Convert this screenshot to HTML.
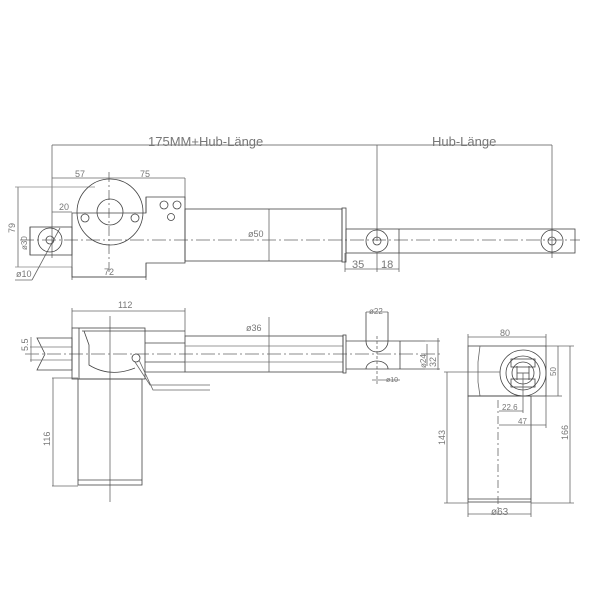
<!DOCTYPE html>
<html><head><meta charset="utf-8"><style>
html,body{margin:0;padding:0;background:#fff;}
svg{display:block;}
text{font-family:"Liberation Sans",sans-serif;fill:#777;}
</style></head><body>
<svg width="600" height="600" viewBox="0 0 600 600" xmlns="http://www.w3.org/2000/svg">
<g fill="none" stroke="#444" stroke-width="0.8">
<line x1="52" y1="145" x2="552" y2="145" stroke="#555"/>
<line x1="52" y1="145" x2="52" y2="258" stroke="#666"/>
<line x1="377" y1="145" x2="377" y2="241" stroke="#666"/>
<line x1="552" y1="145" x2="552" y2="258" stroke="#666"/>
<line x1="52" y1="178" x2="185" y2="178" stroke="#666"/>
<line x1="185" y1="178" x2="185" y2="200" stroke="#666"/>
<line x1="109" y1="172" x2="109" y2="272" stroke="#666" stroke-dasharray="10,3,2,3"/>
<line x1="52" y1="212" x2="72" y2="212" stroke="#666"/>
<line x1="18" y1="187" x2="18" y2="267" stroke="#666"/>
<line x1="15" y1="187" x2="95" y2="187" stroke="#888"/>
<line x1="15" y1="267" x2="72" y2="267" stroke="#888"/>
<line x1="30" y1="227" x2="30" y2="255"/>
<line x1="72" y1="277" x2="146" y2="277" stroke="#666"/>
<line x1="72" y1="267" x2="72" y2="280" stroke="#666"/>
<line x1="146" y1="263" x2="146" y2="280" stroke="#666"/>
<line x1="269" y1="209" x2="269" y2="261" stroke="#666"/>
<line x1="345" y1="269" x2="399" y2="269" stroke="#666"/>
<line x1="345" y1="253" x2="345" y2="272" stroke="#666"/>
<line x1="377" y1="253" x2="377" y2="272" stroke="#666"/>
<line x1="399" y1="253" x2="399" y2="272" stroke="#666"/>
<line x1="15" y1="280" x2="32" y2="280" stroke="#666"/>
<line x1="32" y1="280" x2="60" y2="228" stroke="#666"/>
<line x1="20" y1="240" x2="580" y2="240" stroke="#666" stroke-dasharray="14,3,2,3"/>
<rect x="30" y="227" width="42" height="28"/>
<circle cx="50" cy="240" r="12"/>
<circle cx="50" cy="240" r="4"/>
<path d="M72,213 V277 H146 V263 H185 V197 H146 V213 Z"/>
<line x1="146" y1="197" x2="146" y2="213"/>
<circle cx="110" cy="212" r="33"/>
<circle cx="110" cy="212" r="13"/>
<circle cx="85" cy="218" r="4"/>
<circle cx="135" cy="218" r="4"/>
<circle cx="164" cy="205" r="4"/>
<circle cx="177" cy="205" r="4"/>
<circle cx="171" cy="217" r="3.5"/>
<rect x="185" y="209" width="157" height="52"/>
<rect x="342" y="208" width="4" height="54"/>
<rect x="346" y="229" width="229" height="24"/>
<line x1="399" y1="229" x2="399" y2="253"/>
<circle cx="377" cy="241" r="11"/>
<circle cx="377" cy="241" r="4"/>
<circle cx="552" cy="241" r="11"/>
<circle cx="552" cy="241" r="4"/>

<line x1="72" y1="311" x2="185" y2="311" stroke="#666"/>
<line x1="72" y1="308" x2="72" y2="328" stroke="#666"/>
<line x1="185" y1="308" x2="185" y2="336" stroke="#666"/>
<line x1="110" y1="316" x2="110" y2="502" stroke="#666"/>
<line x1="25" y1="354" x2="440" y2="354" stroke="#666" stroke-dasharray="14,3,2,3"/>
<path d="M37,338 H72 V370 H37 L45,354 Z"/>
<line x1="30" y1="347" x2="72" y2="347" stroke="#777"/>
<line x1="30" y1="360" x2="72" y2="360" stroke="#777"/>
<line x1="31" y1="337" x2="31" y2="362" stroke="#777"/>
<rect x="72" y="328" width="73" height="51"/>
<line x1="79" y1="328" x2="79" y2="379"/>
<path d="M82,331 H145 M84,331 L89,345 V365 Q110,378 135,368"/>
<line x1="145" y1="331" x2="185" y2="331"/>
<line x1="145" y1="343" x2="185" y2="343"/>
<line x1="145" y1="362" x2="185" y2="362"/>
<line x1="145" y1="372" x2="185" y2="372"/>
<circle cx="136" cy="358" r="4"/>
<path d="M135,362 L150,385 H210 M139,360 L153,390 H210" stroke="#666"/>
<rect x="78" y="379" width="64" height="106"/>
<line x1="78" y1="480" x2="142" y2="480"/>
<line x1="52" y1="378" x2="78" y2="378" stroke="#666"/>
<line x1="52" y1="486" x2="78" y2="486" stroke="#666"/>
<line x1="53" y1="378" x2="53" y2="486" stroke="#666"/>
<rect x="185" y="336" width="158" height="36"/>
<line x1="185" y1="346" x2="343" y2="346" stroke="#777"/>
<line x1="185" y1="362" x2="343" y2="362" stroke="#777"/>
<rect x="343" y="335" width="3" height="38"/>
<line x1="269" y1="317" x2="269" y2="372" stroke="#666"/>
<line x1="346" y1="341" x2="425" y2="341"/>
<line x1="346" y1="369" x2="425" y2="369"/>
<line x1="400" y1="341" x2="400" y2="369"/>
<path d="M366,312 V341 A9,9 0 0 0 388,341 V312"/>
<path d="M366,369 A11,8 0 0 1 388,369"/>
<line x1="366" y1="312" x2="388" y2="312" stroke="#666"/>
<line x1="377" y1="336" x2="377" y2="385" stroke="#666" stroke-dasharray="3,2"/>
<line x1="372" y1="380" x2="400" y2="380" stroke="#666"/>
<line x1="425" y1="341" x2="440" y2="341" stroke="#666"/>
<line x1="425" y1="369" x2="440" y2="369" stroke="#666"/>
<line x1="427" y1="344" x2="427" y2="366" stroke="#666"/>
<line x1="438" y1="338" x2="438" y2="370" stroke="#666"/>

<line x1="468" y1="337" x2="546" y2="337" stroke="#666"/>
<line x1="468" y1="334" x2="468" y2="346" stroke="#666"/>
<line x1="546" y1="334" x2="546" y2="346" stroke="#666"/>
<rect x="468" y="346" width="78" height="50"/>
<path d="M480,346 L478,362 V382 L480,396" stroke="#666"/>
<circle cx="523" cy="373" r="23"/>
<circle cx="523" cy="373" r="17"/>
<circle cx="523" cy="373" r="11"/>
<rect x="511" y="359" width="24" height="8"/>
<rect x="511" y="379" width="24" height="8"/>
<path d="M517,366 V380 M529,366 V380 M517,373 H529"/>
<rect x="468" y="396" width="63" height="106"/>
<line x1="468" y1="499" x2="531" y2="499"/>
<line x1="498" y1="400" x2="498" y2="515" stroke="#666" stroke-dasharray="8,3,2,3"/>
<line x1="546" y1="346" x2="574" y2="346" stroke="#666"/>
<line x1="546" y1="396" x2="562" y2="396" stroke="#666"/>
<line x1="558" y1="346" x2="558" y2="396" stroke="#666"/>
<line x1="570" y1="346" x2="570" y2="503" stroke="#666"/>
<line x1="531" y1="503" x2="574" y2="503" stroke="#666"/>
<line x1="447" y1="372" x2="447" y2="503" stroke="#666"/>
<line x1="444" y1="372" x2="500" y2="372" stroke="#666"/>
<line x1="444" y1="503" x2="468" y2="503" stroke="#666"/>
<line x1="468" y1="502" x2="468" y2="517" stroke="#666"/>
<line x1="531" y1="502" x2="531" y2="517" stroke="#666"/>
<line x1="468" y1="514" x2="531" y2="514" stroke="#666"/>
<line x1="499" y1="411" x2="523" y2="411" stroke="#666"/>
<line x1="523" y1="373" x2="523" y2="413" stroke="#666"/>
<line x1="499" y1="425" x2="546" y2="425" stroke="#666"/>
<line x1="546" y1="396" x2="546" y2="428" stroke="#666"/>
</g>
<g font-size="13">
<text x="148" y="146">175MM+Hub-Länge</text>
<text x="432" y="146">Hub-Länge</text>
</g>
<g font-size="9">
<text x="75" y="177">57</text>
<text x="140" y="177">75</text>
<text x="59" y="210">20</text>
<text x="248" y="237">ø50</text>
<text x="104" y="275">72</text>
<text x="16" y="277">ø10</text>
<text x="352" y="268" font-size="11">35</text>
<text x="381" y="268" font-size="11">18</text>
<text x="118" y="308">112</text>
<text x="246" y="331">ø36</text>
<text x="369" y="314" font-size="8">ø22</text>
<text x="386" y="382" font-size="7">ø10</text>
<text x="500" y="336">80</text>
<text x="502" y="410" font-size="8">22.6</text>
<text x="518" y="424" font-size="8">47</text>
<text x="491" y="515" font-size="10">ø63</text>
<g transform="rotate(-90)">
<text x="-233" y="15">79</text>
<text x="-250" y="27" font-size="8">ø30</text>
<text x="-351" y="28">5.5</text>
<text x="-446" y="50">116</text>
<text x="-367" y="436">32</text>
<text x="-368" y="426" font-size="8">ø24</text>
<text x="-376" y="556" font-size="8">50</text>
<text x="-440" y="568">166</text>
<text x="-445" y="445">143</text>
</g>
</g>
</svg>
</body></html>
